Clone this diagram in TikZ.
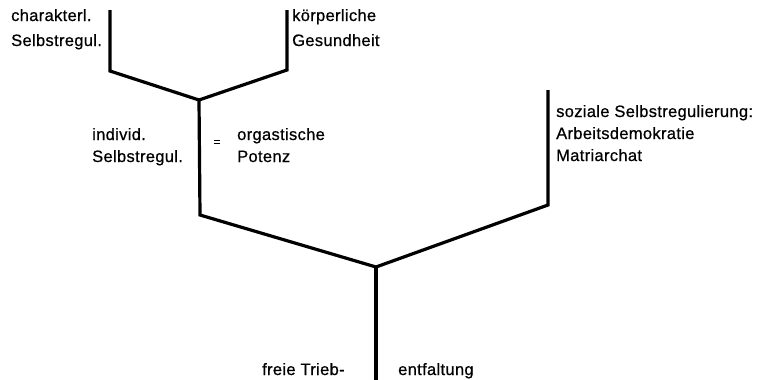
\documentclass[tikz,border=0pt]{standalone}
\usepackage{fontspec}
\setmainfont[LetterSpace=2,FakeBold=0.6]{Liberation Sans}
\begin{document}
\begin{tikzpicture}[x=1pt,y=-1pt,
  branch/.style={line width=3.2pt,line join=miter},
  lbl/.style={anchor=base west,inner sep=0pt,font=\fontsize{16.5}{20}\selectfont}]
\useasboundingbox (0,0) rectangle (763,380);
% coordinates
\coordinate (a1) at (110,10);
\coordinate (a2) at (110,71);
\coordinate (b1) at (287,10);
\coordinate (b2) at (287,70);
\coordinate (j1) at (199,100);
\coordinate (j1b) at (200,215);
\coordinate (c1) at (548,90);
\coordinate (c2) at (548,205);
\coordinate (j2) at (376,267);
\coordinate (j2b) at (376,380);
% branches
\draw[branch] (a1) -- (a2) -- (j1) -- (b2) -- (b1);
\draw[branch] (j1) -- (j1b) -- (j2) -- (c2) -- (c1);
\draw[branch] (j2) -- (j2b);
% labels
\node[lbl] (t1) at (11,21) {charakterl.};
\node[lbl] (t2) at (11,46) {Selbstregul.};
\node[lbl] (t3) at (292,21) {körperliche};
\node[lbl] (t4) at (292,46) {Gesundheit};
\node[lbl] (t5) at (92,140) {individ.};
\node[lbl] (t6) at (92,162) {Selbstregul.};
\node[inner sep=0pt,font=\fontsize{12}{14}\selectfont] (eq) at (217,143) {=};
\node[lbl] (t7) at (237,140) {orgastische};
\node[lbl] (t8) at (237,162) {Potenz};
\node[lbl] (t9) at (556,117) {soziale Selbstregulierung:};
\node[lbl] (t10) at (556,139) {Arbeitsdemokratie};
\node[lbl] (t11) at (556,161) {Matriarchat};
\node[lbl] (t12) at (262,375) {freie Trieb-};
\node[lbl] (t13) at (398,375) {entfaltung};
\end{tikzpicture}
\end{document}
